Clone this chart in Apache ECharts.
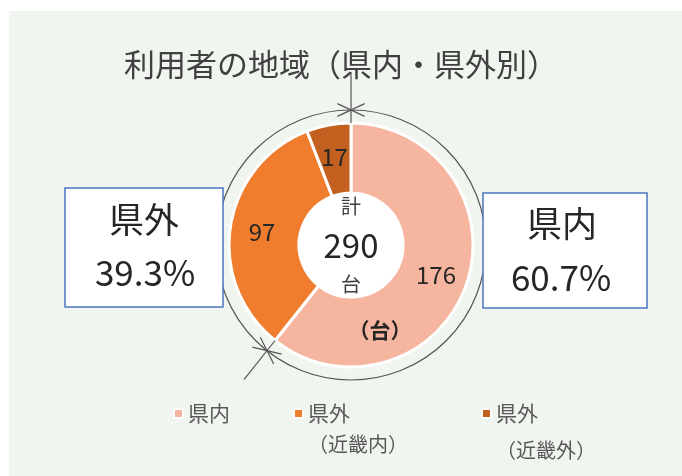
<!DOCTYPE html>
<html>
<head>
<meta charset="utf-8">
<script src="https://cdn.jsdelivr.net/npm/echarts@6/dist/echarts.min.js"></script>
<style>
html, body { margin: 0; padding: 0; background: #fff; }
#main { width: 682px; height: 476px; }
</style>
</head>
<body>
<div id="main"></div>
<script>
// 利用者の地域（県内・県外別）
var regionNames = ['県内', '県外（近畿内）', '県外（近畿外）'];
var regionCounts = [176, 97, 17];
var regionColors = ['#f5b59f', '#ef7d2d', '#c4601f'];

var FONT = '"Noto Sans CJK JP", "Noto Sans", sans-serif';
var CX = 351, CY = 245;      // 円の中心
var R_IN = 52, R_OUT = 122;  // ドーナツ
var R_RING = 135;            // 外側の細い円

function showRegionChart() {
    var myChart = echarts.init(document.getElementById('main'));

    var total = 0;
    for (let i = 0; i < regionCounts.length; i++) {
        total += regionCounts[i];
    }
    var inPref = regionCounts[0];
    var outPref = total - inPref;
    var pctIn = (inPref / total * 100).toFixed(1);
    var pctOut = (outPref / total * 100).toFixed(1);

    var pieData = [];
    for (let i = 0; i < regionCounts.length; i++) {
        pieData.push({ name: regionNames[i], value: regionCounts[i], itemStyle: { color: regionColors[i] } });
    }

    // 県内／県外の境目（上と左下）に線と＊印
    var marks = [];
    var boundAngles = [0, 360 * inPref / total];
    for (let k = 0; k < boundAngles.length; k++) {
        let a = boundAngles[k] * Math.PI / 180;
        let dx = Math.sin(a), dy = -Math.cos(a);
        marks.push({
            type: 'line', z: 50, silent: true,
            shape: { x1: CX + dx * R_OUT, y1: CY + dy * R_OUT, x2: CX + dx * 172, y2: CY + dy * 172 },
            style: { stroke: '#555', lineWidth: 1.2 }
        });
        let px = CX + dx * R_RING, py = CY + dy * R_RING;
        let tang = Math.atan2(dx, -dy); // 接線方向
        let offs = [25, -25];
        for (let j = 0; j < offs.length; j++) {
            let t = tang + offs[j] * Math.PI / 180;
            marks.push({
                type: 'line', z: 50, silent: true,
                shape: { x1: px - Math.cos(t) * 15, y1: py - Math.sin(t) * 15, x2: px + Math.cos(t) * 15, y2: py + Math.sin(t) * 15 },
                style: { stroke: '#555', lineWidth: 1.2 }
            });
        }
    }

    var boxStyle = { fill: '#fff', stroke: '#4a74c0', lineWidth: 1.5 };
    var bigText = { fontSize: 35, fill: '#262626', fontFamily: FONT, align: 'center', verticalAlign: 'middle' };

    var graphics = [
        { type: 'rect', z: -10, silent: true, shape: { x: 9, y: 11, width: 673, height: 465 }, style: { fill: '#f1f5f0' } },
        { type: 'circle', z: 1, silent: true, shape: { cx: CX, cy: CY, r: R_RING }, style: { fill: 'none', stroke: '#555', lineWidth: 1.2 } },
        // 県外ボックス
        { type: 'rect', z: 60, shape: { x: 65, y: 188, width: 158, height: 119 }, style: boxStyle },
        { type: 'text', z: 61, x: 144, y: 220, style: Object.assign({ text: '県外' }, bigText) },
        { type: 'text', z: 61, x: 145, y: 273, style: Object.assign({ text: pctOut + '%' }, bigText) },
        // 県内ボックス
        { type: 'rect', z: 60, shape: { x: 483, y: 193, width: 164, height: 115 }, style: boxStyle },
        { type: 'text', z: 61, x: 562, y: 224, style: Object.assign({ text: '県内' }, bigText) },
        { type: 'text', z: 61, x: 561, y: 278, style: Object.assign({ text: pctIn + '%' }, bigText) },
        // 単位
        { type: 'text', z: 61, x: 380, y: 330, style: { text: '（台）', fontSize: 21, fontWeight: 'bold', fill: '#262626', fontFamily: FONT, align: 'center', verticalAlign: 'middle' } }
    ].concat(marks);

    function legendFmt(name) {
        let p = name.indexOf('（');
        if (p < 0) return '{a|' + name + '}';
        return '{a|' + name.substring(0, p) + '}\n{b|' + name.substring(p) + '}';
    }
    function makeLegend(i, left, line2) {
        return {
            data: [regionNames[i]],
            left: left, top: 398,
            orient: 'horizontal',
            icon: 'rect', itemWidth: 9, itemHeight: 9,
            selectedMode: false,
            formatter: legendFmt,
            textStyle: {
                color: '#595959', fontFamily: FONT,
                padding: [line2, 0, 0, 0],
                rich: {
                    a: { fontSize: 21, lineHeight: 20, color: '#595959', fontFamily: FONT },
                    b: { fontSize: 20, lineHeight: line2, color: '#595959', fontFamily: FONT }
                }
            }
        };
    }

    var option = {
        backgroundColor: '#fff',
        title: {
            text: '利用者の地域（県内・県外別）',
            left: 'center', top: 44,
            textStyle: { fontSize: 31, fontWeight: 'normal', color: '#404040', fontFamily: FONT }
        },
        legend: [makeLegend(0, 168, 0), makeLegend(1, 288, 42), makeLegend(2, 476, 54)],
        graphic: graphics,
        series: [
            {
                name: '地域',
                type: 'pie',
                center: [CX, CY],
                radius: [R_IN, R_OUT],
                startAngle: 90,
                clockwise: true,
                avoidLabelOverlap: false,
                silent: true,
                itemStyle: { borderColor: '#fff', borderWidth: 3 },
                label: {
                    show: true, position: 'inside',
                    formatter: '{c}',
                    fontSize: 24, color: '#262626', fontFamily: FONT
                },
                labelLine: { show: false },
                data: pieData
            },
            {
                name: '計',
                type: 'pie',
                center: [CX, CY],
                radius: [0, R_IN - 1],
                silent: true,
                itemStyle: { color: '#fff' },
                label: {
                    show: true, position: 'center',
                    formatter: '{s|計}\n{n|' + total + '}\n{s|台}',
                    rich: {
                        s: { fontSize: 20, lineHeight: 38, color: '#404040', fontFamily: FONT },
                        n: { fontSize: 33, lineHeight: 40, color: '#262626', fontFamily: FONT }
                    }
                },
                labelLine: { show: false },
                data: [{ name: '計', value: total }]
            }
        ]
    };

    myChart.setOption(option);
}

showRegionChart();
</script>
</body>
</html>
